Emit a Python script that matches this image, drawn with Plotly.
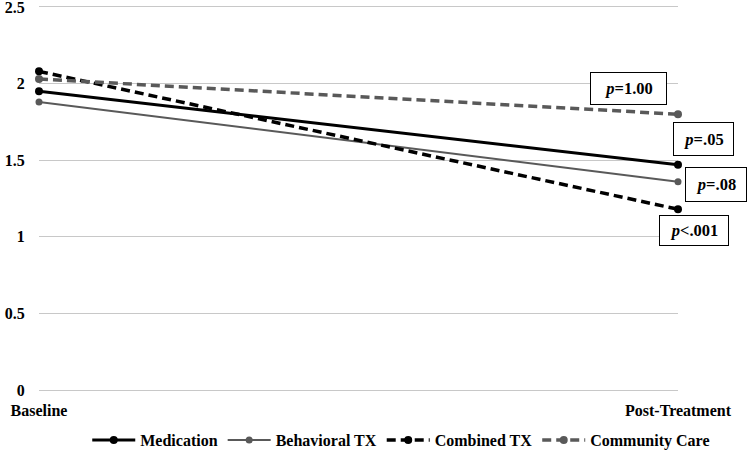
import plotly.graph_objects as go

timepoints = ["Baseline", "Post-Treatment"]
medication = [1.95, 1.47]
behavioral = [1.88, 1.36]
combined = [2.08, 1.18]
community = [2.03, 1.80]

p_labels = ["<i>p</i>=1.00", "<i>p</i>=.05", "<i>p</i>=.08", "<i>p</i>&lt;.001"]

FONT = "Liberation Serif"

fig = go.Figure()
series = [
    ("Medication", medication, "#000000", "solid", 3, 8),
    ("Behavioral TX", behavioral, "#595959", "solid", 2, 7),
    ("Combined TX", combined, "#000000", "9px,5px", 3.5, 8),
    ("Community Care", community, "#595959", "9px,5px", 3.5, 8),
]
for name, vals, col, dash, w, ms in series:
    fig.add_trace(go.Scatter(
        x=timepoints, y=vals, name=name, mode="lines+markers",
        line=dict(color=col, width=w, dash=dash),
        marker=dict(color=col, size=ms, symbol="circle"),
        cliponaxis=False,
    ))

# annotation placements: (paper x, data y, width, height)
ann_pos = [(0.9225, 1.968, 71, 27), (1.040, 1.638, 55, 28),
           (1.0595, 1.341, 56, 29), (1.025, 1.042, 64, 25)]
for txt, (ax, ay, aw, ah) in zip(p_labels, ann_pos):
    fig.add_annotation(
        x=ax, y=ay, xref="paper", yref="y", text=txt, showarrow=False,
        xanchor="center", yanchor="middle",
        font=dict(family=FONT, size=16.5, color="#000000", weight="bold"),
        bordercolor="#000000", borderwidth=1, borderpad=2, bgcolor="white",
        width=aw, height=ah, align="center", valign="middle",
    )

fig.update_layout(
    width=750, height=451,
    margin=dict(l=39, r=72, t=5, b=61, autoexpand=False),
    paper_bgcolor="white", plot_bgcolor="white",
    font=dict(family=FONT, size=16, color="#000000", weight="bold"),
    showlegend=True,
    legend=dict(
        orientation="h", xref="container", x=0.535, xanchor="center",
        yref="container", y=0.024, yanchor="middle",
        font=dict(family=FONT, size=16, color="#000000", weight="bold"),
        itemwidth=43, tracegroupgap=0,
    ),
    xaxis=dict(
        type="category", range=[0, 1], showgrid=False, zeroline=False,
        showline=False, ticks="outside", ticklen=6, tickcolor="rgba(0,0,0,0)",
        automargin=False,
        tickfont=dict(family=FONT, size=16, weight="bold"),
    ),
    yaxis=dict(
        range=[0, 2.513], tickvals=[0, 0.5, 1, 1.5, 2, 2.5],
        ticktext=["0", "0.5", "1", "1.5", "2", "2.5"],
        showgrid=True, gridcolor="#c8c8c8", gridwidth=1,
        zeroline=True, zerolinecolor="#c8c8c8", zerolinewidth=1,
        showline=False, ticks="outside", ticklen=10, tickcolor="rgba(0,0,0,0)",
        automargin=False, ticklabeloverflow="allow",
        tickfont=dict(family=FONT, size=16, weight="bold"),
    ),
)

fig.write_html("out.html", config={"displayModeBar": False},
               post_script="document.body.style.margin='0';")
